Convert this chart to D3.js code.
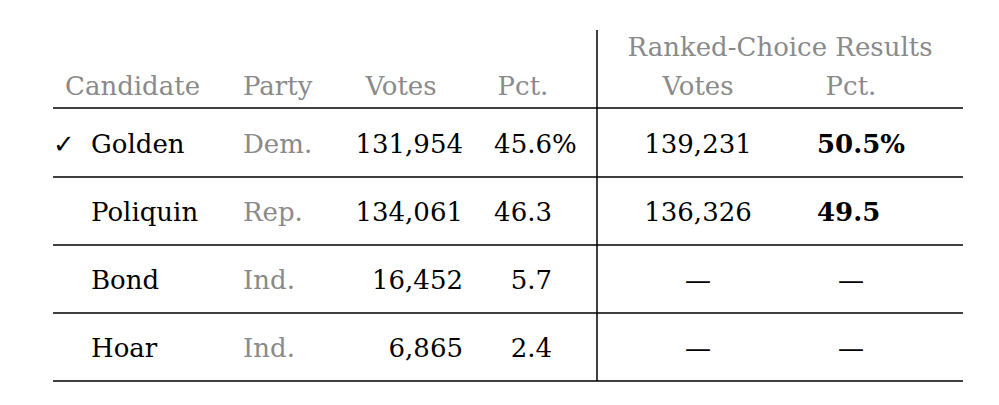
<!DOCTYPE html><html><head><meta charset="utf-8">
<script src="https://cdn.jsdelivr.net/npm/d3@7"></script>
<style>body{margin:0;background:#fff}text{font-family:"DejaVu Serif","Liberation Serif",serif;font-size:26px}</style>
</head><body><svg id="c" width="999" height="405"></svg>
<script>
const candidates=["Golden","Poliquin","Bond","Hoar"];
const parties=["Dem.","Rep.","Ind.","Ind."];
const votes=[131954,134061,16452,6865];
const pcts=[45.6,46.3,5.7,2.4];
const rcVotes=[139231,136326,null,null];
const rcPcts=[50.5,49.5,null,null];
const winner="Golden";
const headers=["Candidate","Party","Votes","Pct."];
const rcHeaders=["Votes","Pct."];
const svg=d3.select("#c");
const gray="#8a8a8a";
const y=d3.scaleBand().domain(d3.range(candidates.length)).range([109,381]);
const fmt=d3.format(",");
svg.append("line").attr("x1",597).attr("x2",597).attr("y1",30).attr("y2",381).attr("stroke","#000").attr("stroke-width",1.5);
[108].concat(candidates.map((d,i)=>y(i)+y.bandwidth())).forEach(v=>svg.append("line").attr("x1",53).attr("x2",963).attr("y1",v).attr("y2",v).attr("stroke","#000").attr("stroke-width",1.5));
const h=svg.append("g").attr("fill",gray);
h.append("text").attr("x",780).attr("y",56).attr("text-anchor","middle").text("Ranked-Choice Results");
const hx=[[65,"start"],[243,"start"],[401,"middle"],[523,"middle"]];
headers.forEach((t,i)=>h.append("text").attr("x",hx[i][0]).attr("y",95).attr("text-anchor",hx[i][1]).text(t));
h.append("text").attr("x",698).attr("y",95).attr("text-anchor","middle").text(rcHeaders[0]);
h.append("text").attr("x",851).attr("y",95).attr("text-anchor","middle").text(rcHeaders[1]);
candidates.forEach((c,i)=>{
 const by=y(i)+y.bandwidth()/2+10;
 const g=svg.append("g");
 if(c===winner) g.append("text").attr("x",53).attr("y",by).text("✓");
 g.append("text").attr("x",91).attr("y",by).text(c);
 g.append("text").attr("x",243).attr("y",by).attr("fill",gray).text(parties[i]);
 g.append("text").attr("x",463).attr("y",by).attr("text-anchor","end").text(fmt(votes[i]));
 g.append("text").attr("x",552).attr("y",by).attr("text-anchor","end").text(pcts[i].toFixed(1));
 if(i===0) g.append("text").attr("x",552).attr("y",by).text("%");
 if(rcVotes[i]!=null){
  g.append("text").attr("x",698).attr("y",by).attr("text-anchor","middle").text(fmt(rcVotes[i]));
  g.append("text").attr("x",817).attr("y",by).attr("font-weight","bold").text(rcPcts[i].toFixed(1)+(i===0?"%":""));
 } else {
  g.append("text").attr("x",698).attr("y",by).attr("text-anchor","middle").text("—");
  g.append("text").attr("x",851).attr("y",by).attr("text-anchor","middle").text("—");
 }
});
</script></body></html>
